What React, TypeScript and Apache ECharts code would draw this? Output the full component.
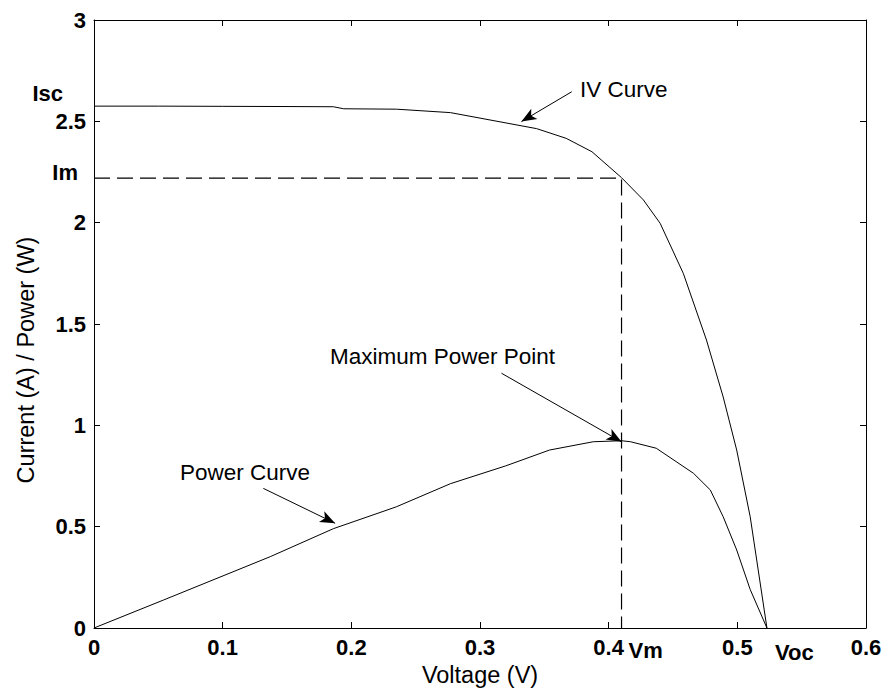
import React, { useEffect, useRef } from "react";
import * as echarts from "echarts";

const ivVoltage = [0, 0.05, 0.1, 0.15, 0.186, 0.194, 0.235, 0.277, 0.344, 0.367, 0.387, 0.41, 0.427, 0.44, 0.458, 0.476, 0.489, 0.4995, 0.51, 0.523];
const ivCurrent = [2.575, 2.575, 2.574, 2.573, 2.572, 2.562, 2.56, 2.543, 2.464, 2.416, 2.35, 2.222, 2.112, 1.997, 1.75, 1.421, 1.14, 0.878, 0.549, 0];

const pVoltage = [0, 0.054, 0.137, 0.186, 0.235, 0.277, 0.32, 0.354, 0.388, 0.41, 0.417, 0.437, 0.466, 0.479, 0.489, 0.4995, 0.51, 0.523];
const pPower = [0, 0.138, 0.352, 0.49, 0.598, 0.712, 0.8, 0.878, 0.919, 0.924, 0.919, 0.887, 0.763, 0.681, 0.549, 0.385, 0.19, 0];

const Vm = 0.41;
const Im = 2.22;
const Isc = 2.575;
const Voc = 0.523;

const xMin = 0, xMax = 0.6, xStep = 0.1;
const yMin = 0, yMax = 3, yStep = 0.5;

const curveLabels = [
  { text: "IV Curve", at: [0.3777, 2.655] },
  { text: "Maximum Power Point", at: [0.1834, 1.342] },
  { text: "Power Curve", at: [0.0668, 0.765] },
];
const arrows = [
  { from: [0.3713, 2.646], to: [0.3322, 2.499] },
  { from: [0.3167, 1.257], to: [0.41, 0.919] },
  { from: [0.1316, 0.689], to: [0.1874, 0.517] },
];

const FONT = '"Liberation Sans", Arial, Helvetica, sans-serif';
const INK = "#000";

export default function App() {
  const ref = useRef<HTMLDivElement>(null);
  useEffect(() => {
    const chart = echarts.init(ref.current!, null, { renderer: "svg" });
    const axisCommon = {
      type: "value",
      axisLine: { show: true, onZero: false, lineStyle: { color: INK, width: 1 } },
      axisTick: { show: true, inside: true, length: 6, lineStyle: { color: INK } },
      splitLine: { show: false },
    };
    const option: any = {
      animation: false,
      backgroundColor: "#fff",
      grid: { left: 94, right: 21, top: 20, bottom: 65, containLabel: false, outerBoundsMode: "none" },
      xAxis: [
        {
          ...axisCommon,
          position: "bottom",
          min: xMin, max: xMax, interval: xStep,
          name: "Voltage (V)",
          nameLocation: "middle",
          nameGap: 28,
          nameTextStyle: { fontFamily: FONT, fontSize: 23.5, color: INK },
          axisLabel: { margin: 8, fontFamily: FONT, fontSize: 22, fontWeight: "bold", color: INK },
        },
        {
          ...axisCommon,
          position: "top",
          min: xMin, max: xMax, interval: xStep,
          axisLabel: { show: false },
        },
      ],
      yAxis: [
        {
          ...axisCommon,
          position: "left",
          min: yMin, max: yMax, interval: yStep,
          axisLabel: { margin: 8, fontFamily: FONT, fontSize: 22, fontWeight: "bold", color: INK },
        },
        {
          ...axisCommon,
          position: "right",
          min: yMin, max: yMax, interval: yStep,
          axisLabel: { show: false },
        },
      ],
      series: [
        {
          type: "line",
          name: "IV Curve",
          data: ivVoltage.map((v, i) => [v, ivCurrent[i]]),
          showSymbol: false,
          lineStyle: { color: INK, width: 1 },
          z: 3,
        },
        {
          type: "line",
          name: "Power Curve",
          data: pVoltage.map((v, i) => [v, pPower[i]]),
          showSymbol: false,
          lineStyle: { color: INK, width: 1 },
          z: 3,
        },
        {
          type: "line",
          name: "MPP guide",
          data: [[xMin, Im], [Vm, Im], [Vm, yMin]],
          showSymbol: false,
          lineStyle: { color: INK, width: 1.2, type: [16, 7] },
          z: 2,
        },
        {
          type: "line",
          name: "arrows",
          data: [],
          markLine: {
            silent: true,
            symbol: ["none", "arrow"],
            symbolSize: [9, 15],
            label: { show: false },
            lineStyle: { color: INK, width: 1, type: "solid" },
            itemStyle: { color: INK },
            data: arrows.map((a) => [{ coord: a.from }, { coord: a.to }]),
          },
        },
      ],
    };
    chart.setOption(option);

    const px = (v: number, i: number) => chart.convertToPixel({ seriesIndex: 0 }, [v, i]) as number[];
    const origin = px(xMin, yMin);
    const txt = (text: string, x: number, y: number, font: string, align: string, rotation = 0) => ({
      type: "text",
      x, y, rotation,
      silent: true,
      style: {
        text, font, fill: INK,
        textAlign: align, align,
        textVerticalAlign: "middle", verticalAlign: "middle",
      },
    });
    const normal = `22.5px ${FONT}`;
    const bold = `bold 22px ${FONT}`;
    const graphics: any[] = [];
    curveLabels.forEach((l) => {
      const p = px(l.at[0], l.at[1]);
      graphics.push(txt(l.text, p[0], p[1], normal, "left"));
    });
    const pIsc = px(xMin, Isc);
    graphics.push(txt("Isc", origin[0] - 31, pIsc[1] - 13, bold, "right"));
    const pIm = px(xMin, Im);
    graphics.push(txt("Im", origin[0] - 16, pIm[1] - 6, bold, "right"));
    const pVm = px(Vm, yMin);
    graphics.push(txt("Vm", pVm[0] + 7, pVm[1] + 22, bold, "left"));
    const pVoc = px(Voc, yMin);
    graphics.push(txt("Voc", pVoc[0] + 8, pVoc[1] + 24, bold, "left"));
    graphics.push(txt("Current (A) / Power (W)", 26, 360, `23.5px ${FONT}`, "center", Math.PI / 2));
    chart.setOption({ graphic: graphics });

    return () => chart.dispose();
  }, []);
  return <div ref={ref} style={{ position: "fixed", left: 0, top: 0, width: 887, height: 693, background: "#fff" }} />;
}
